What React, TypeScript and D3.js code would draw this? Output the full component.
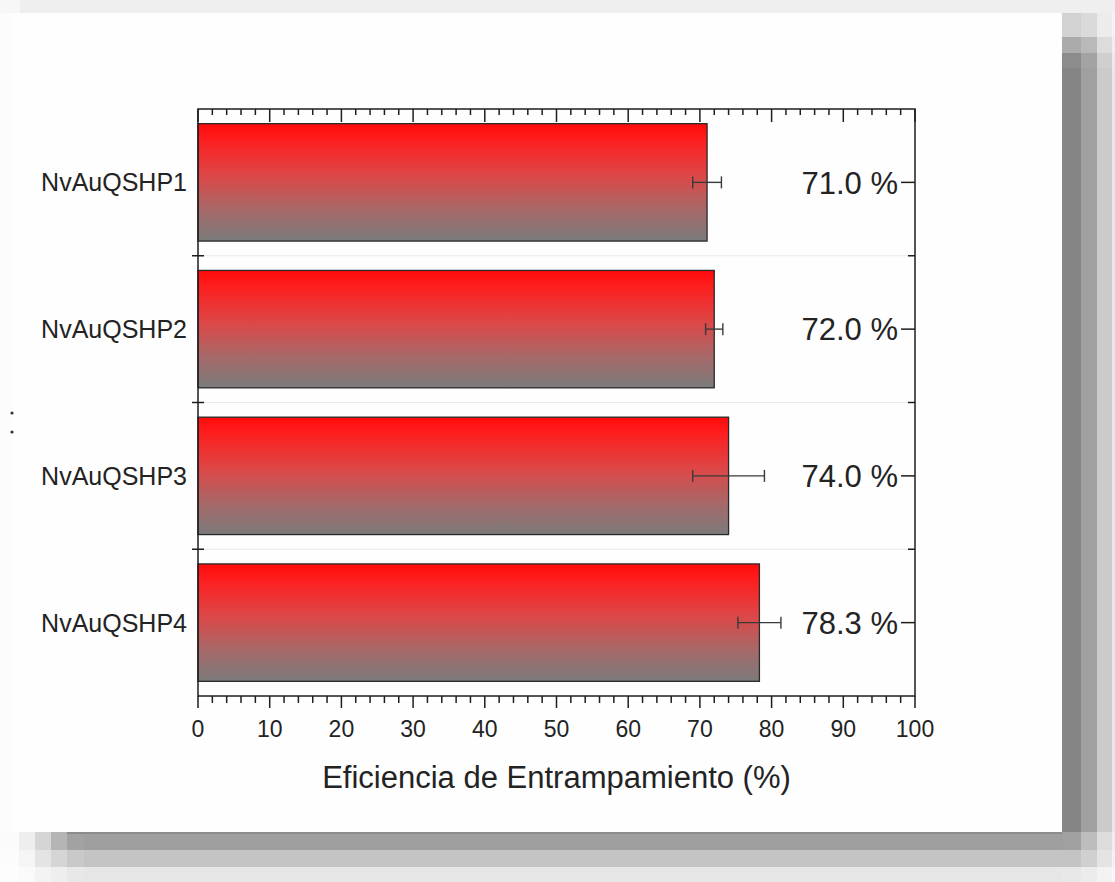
import React from "react";
import * as d3 from "d3";

const categories = ["NvAuQSHP1", "NvAuQSHP2", "NvAuQSHP3", "NvAuQSHP4"];
const values = [71.0, 72.0, 74.0, 78.3];
const errors = [2.0, 1.2, 5.0, 3.0];
const valueLabels = ["71.0 %", "72.0 %", "74.0 %", "78.3 %"];
const xMajorTicks = [0, 10, 20, 30, 40, 50, 60, 70, 80, 90, 100];
const xDomain = [0, 100];
const xTitle = "Eficiencia de Entrampamiento (%)";

const W = 1115;
const H = 882;
const FRAME = { left: 198, right: 915, top: 109, bottom: 696 };
const FONT = "'Liberation Sans', Arial, Helvetica, sans-serif";
const TEXT = "#232323";
const AXIS = "#1e1e1e";

// background shadow blocks (decorative)
const rightCols = [1062, 1081, 1097, 1112, 1115];
const rightRows = [13, 37, 53, 68, 832, 850, 867, 882];
const rightColors = [
  ["#d2d2d2", "#dadada", "#ececec", "#f4f4f4"],
  ["#ababab", "#b9b9b9", "#dcdcdc", "#eeeeee"],
  ["#8c8c8c", "#a3a3a3", "#cfcfcf", "#eaeaea"],
  ["#858585", "#a0a0a0", "#cbcbcb", "#e8e8e8"],
  ["#a0a0a0", "#bdbdbd", "#dcdcdc", "#eeeeee"],
  ["#c4c4c4", "#d0d0d0", "#e4e4e4", "#f2f2f2"],
  ["#e8e8e8", "#ececec", "#f3f3f3", "#f7f7f7"],
];
const bottomCols = [0, 19, 35, 51, 67, 84, 1062];
const bottomRows = [832, 850, 867, 882];
const bottomColors = [
  ["#fbfbfb", "#eeeeee", "#d5d5d5", "#b5b5b5", "#a2a2a2", "#9f9f9f"],
  ["#fcfcfc", "#f5f5f5", "#e4e4e4", "#d5d5d5", "#c9c9c9", "#c4c4c4"],
  ["#fdfdfd", "#fafafa", "#f3f3f3", "#eeeeee", "#e8e8e8", "#e6e6e6"],
];

export default function App() {
  const x = d3.scaleLinear().domain(xDomain).range([FRAME.left, FRAME.right]);
  const y = d3
    .scaleBand<string>()
    .domain(categories)
    .range([FRAME.top, FRAME.bottom])
    .paddingInner(0.2)
    .paddingOuter(0.1);
  const bw = y.bandwidth();
  const step = y.step();
  const minorTicks = d3.range(0, 101, 2).filter((v) => v % 10 !== 0);
  const separators = categories.slice(1).map((c) => (y(c) as number) - (step * 0.2) / 2);

  const bg: React.ReactNode[] = [];
  rightColors.forEach((row, ri) =>
    row.forEach((col, ci) =>
      bg.push(
        <rect
          key={`r${ri}-${ci}`}
          x={rightCols[ci]}
          y={rightRows[ri]}
          width={rightCols[ci + 1] - rightCols[ci]}
          height={rightRows[ri + 1] - rightRows[ri]}
          fill={col}
        />
      )
    )
  );
  bottomColors.forEach((row, ri) =>
    row.forEach((col, ci) =>
      bg.push(
        <rect
          key={`b${ri}-${ci}`}
          x={bottomCols[ci]}
          y={bottomRows[ri]}
          width={bottomCols[ci + 1] - bottomCols[ci]}
          height={bottomRows[ri + 1] - bottomRows[ri]}
          fill={col}
        />
      )
    )
  );

  return (
    <div style={{ position: "absolute", left: 0, top: 0 }}>
      <svg width={W} height={H} viewBox={`0 0 ${W} ${H}`} style={{ display: "block" }}>
        <defs>
          <linearGradient id="barGrad" x1="0" y1="0" x2="0" y2="1">
            <stop offset="0" stopColor="#ff0a0a" />
            <stop offset="0.12" stopColor="#ff1c1c" />
            <stop offset="0.45" stopColor="#dc4848" />
            <stop offset="0.75" stopColor="#a46a6a" />
            <stop offset="1" stopColor="#7b7b7b" />
          </linearGradient>
        </defs>
        <rect x={0} y={0} width={W} height={H} fill="#fcfcfc" />
        <rect x={0} y={0} width={W} height={13} fill="#efefef" />
        <rect x={0} y={0} width={20} height={13} fill="#f7f7f7" />
        <rect x={12} y={13} width={1050} height={819} fill="#fefefe" />
        {bg}
        <rect x={67} y={832} width={995} height={2} fill="#8c8c8c" />

        {/* stray marks at left */}
        <circle cx={12} cy={413} r={1.6} fill="#333" />
        <circle cx={12} cy={432} r={1.6} fill="#333" />

        {/* faint separators */}
        {separators.map((s, i) => (
          <line key={`sep${i}`} x1={FRAME.left} x2={FRAME.right} y1={s} y2={s} stroke="#e9e9e9" strokeWidth={1} />
        ))}

        {/* bars */}
        {categories.map((c, i) => (
          <rect
            key={`bar${i}`}
            x={x(0)}
            y={y(c)}
            width={x(values[i]) - x(0)}
            height={bw}
            fill="url(#barGrad)"
            stroke="#2a2a2a"
            strokeWidth={1.3}
          />
        ))}

        {/* error bars */}
        {categories.map((c, i) => {
          const cy = (y(c) as number) + bw / 2;
          const x1 = x(values[i] - errors[i]);
          const x2 = x(values[i] + errors[i]);
          return (
            <g key={`err${i}`} stroke="#3a3a3a" strokeWidth={1.4}>
              <line x1={x1} x2={x2} y1={cy} y2={cy} />
              <line x1={x1} x2={x1} y1={cy - 6} y2={cy + 6} />
              <line x1={x2} x2={x2} y1={cy - 6} y2={cy + 6} />
            </g>
          );
        })}

        {/* frame */}
        <rect
          x={FRAME.left}
          y={FRAME.top}
          width={FRAME.right - FRAME.left}
          height={FRAME.bottom - FRAME.top}
          fill="none"
          stroke={AXIS}
          strokeWidth={1.5}
        />

        {/* bottom axis ticks (outward) */}
        {xMajorTicks.map((t) => (
          <line key={`bM${t}`} x1={x(t)} x2={x(t)} y1={FRAME.bottom} y2={FRAME.bottom + 12} stroke={AXIS} strokeWidth={1.5} />
        ))}
        {minorTicks.map((t) => (
          <line key={`bm${t}`} x1={x(t)} x2={x(t)} y1={FRAME.bottom} y2={FRAME.bottom + 7} stroke={AXIS} strokeWidth={1.5} />
        ))}
        {/* top axis ticks (inward) */}
        {xMajorTicks.map((t) => (
          <line key={`tM${t}`} x1={x(t)} x2={x(t)} y1={FRAME.top} y2={FRAME.top + 13} stroke={AXIS} strokeWidth={1.5} />
        ))}
        {minorTicks.map((t) => (
          <line key={`tm${t}`} x1={x(t)} x2={x(t)} y1={FRAME.top} y2={FRAME.top + 6} stroke={AXIS} strokeWidth={1.5} />
        ))}

        {/* left axis separator ticks */}
        {separators.map((s, i) => (
          <line key={`ls${i}`} x1={FRAME.left - 6} x2={FRAME.left + 6} y1={s} y2={s} stroke={AXIS} strokeWidth={1.5} />
        ))}
        {/* right axis ticks */}
        {separators.map((s, i) => (
          <line key={`rs${i}`} x1={FRAME.right - 7} x2={FRAME.right} y1={s} y2={s} stroke={AXIS} strokeWidth={1.5} />
        ))}
        {categories.map((c, i) => {
          const cy = (y(c) as number) + bw / 2;
          return (
            <line key={`rc${i}`} x1={FRAME.right - 14} x2={FRAME.right} y1={cy} y2={cy} stroke={AXIS} strokeWidth={1.5} />
          );
        })}

        {/* x tick labels */}
        {xMajorTicks.map((t) => (
          <text
            key={`xl${t}`}
            x={x(t)}
            y={737}
            textAnchor="middle"
            fontFamily={FONT}
            fontSize={23}
            fill={TEXT}
          >
            {t}
          </text>
        ))}

        {/* category labels */}
        {categories.map((c, i) => (
          <text
            key={`cl${i}`}
            x={187}
            y={(y(c) as number) + bw / 2}
            dy="0.36em"
            textAnchor="end"
            fontFamily={FONT}
            fontSize={25}
            fill={TEXT}
          >
            {c}
          </text>
        ))}

        {/* value labels */}
        {categories.map((c, i) => (
          <text
            key={`vl${i}`}
            x={898}
            y={(y(c) as number) + bw / 2}
            dy="0.36em"
            textAnchor="end"
            fontFamily={FONT}
            fontSize={31}
            fill={TEXT}
          >
            {valueLabels[i]}
          </text>
        ))}

        {/* x title */}
        <text
          x={(FRAME.left + FRAME.right) / 2}
          y={788}
          textAnchor="middle"
          fontFamily={FONT}
          fontSize={31}
          fill={TEXT}
        >
          {xTitle}
        </text>
      </svg>
    </div>
  );
}
